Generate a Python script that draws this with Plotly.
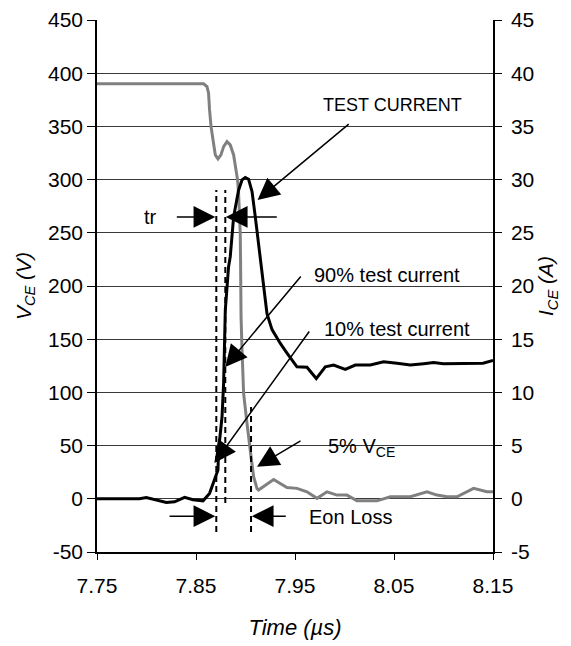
import plotly.graph_objects as go

# V_CE (grey, left axis, volts)
t_vce = [7.75, 7.8577, 7.8611, 7.8627, 7.8637, 7.8652, 7.8672, 7.8695, 7.8722, 7.8752,
         7.8779, 7.8813, 7.8846, 7.8880, 7.8904, 7.8920, 7.8930, 7.8940, 7.8947, 7.8950,
         7.8952, 7.8955, 7.8965, 7.8981, 7.9015, 7.9042, 7.9056, 7.9082, 7.9116, 7.9132,
         7.9284, 7.9419, 7.9520, 7.9621, 7.9722, 7.9823, 7.9924, 8.0025, 8.0126, 8.0328,
         8.0463, 8.0665, 8.0833, 8.0934, 8.1035, 8.1136, 8.1304, 8.1439, 8.15]
vce = [390, 390, 387.4, 381.2, 365.5, 349.8, 337.3, 323.2, 319.4, 323.2,
       331, 335.7, 332.6, 323.2, 309.1, 299.7, 287.2, 271.5, 249.6, 224.6,
       196.3, 171.1, 139.8, 99.1, 70.9, 45.8, 39.5, 20.7, 9.8, 8.2,
       18.2, 10.7, 9.8, 6.6, 0.4, 6.6, 3.5, 3.5, -1.9, -1.9,
       1.9, 1.9, 6.6, 3.5, 1.9, 1.9, 9.8, 6.6, 6.6]

# I_CE (black, right axis, amps)
t_ice = [7.75, 7.793, 7.7998, 7.8082, 7.82, 7.8284, 7.8385, 7.847, 7.8571, 7.8637,
         7.8688, 7.8722, 7.8728, 7.8763, 7.8779, 7.8796, 7.8829, 7.8846, 7.888, 7.893,
         7.8965, 7.8998, 7.9031, 7.9066, 7.9099, 7.9133, 7.915, 7.9167, 7.9183, 7.9217,
         7.9268, 7.9352, 7.9419, 7.952, 7.9621, 7.9715, 7.9806, 7.989, 8.0008, 8.0109,
         8.0261, 8.0395, 8.053, 8.0665, 8.08, 8.09, 8.10, 8.12, 8.14, 8.15]
ice = [0, 0, 0.13, -0.08, -0.34, -0.28, 0.13, -0.08, -0.19, 0.51,
       1.76, 2.7, 4.58, 7.71, 10.85, 17.74, 21.82, 22.76, 26.5, 29.0,
       29.97, 30.2, 30.04, 28.87, 26.5, 23.7, 22.4, 20.9, 19.6, 17.4,
       15.9, 14.6, 13.7, 12.4, 12.36, 11.3, 12.4, 12.57, 12.17, 12.57,
       12.57, 12.88, 12.73, 12.57, 12.7, 12.8, 12.7, 12.7, 12.75, 13.0]

x_ticks = [7.75, 7.85, 7.95, 8.05, 8.15]
v_ticks = [-50, 0, 50, 100, 150, 200, 250, 300, 350, 400, 450]
i_ticks = [-5, 0, 5, 10, 15, 20, 25, 30, 35, 40, 45]

# dashed marker lines: (time, top V, bottom V)
t_10pct, t_90pct, t_5pct_vce = 7.8705, 7.8796, 7.9056
marker_lines = [(t_10pct, 290.3, -31.3), (t_90pct, 290.3, -4.0), (t_5pct_vce, 86.2, -31.3)]

FONT = "Liberation Sans, Arial, sans-serif"

fig = go.Figure()
fig.add_trace(go.Scatter(x=t_vce, y=vce, mode="lines", line=dict(color="#808080", width=3),
                         name="VCE", showlegend=False))
fig.add_trace(go.Scatter(x=t_ice, y=ice, mode="lines", line=dict(color="#000000", width=3),
                         name="ICE", yaxis="y2", showlegend=False))

for t, top, bot in marker_lines:
    fig.add_shape(type="line", xref="x", yref="y", x0=t, x1=t, y0=bot, y1=top,
                  line=dict(color="black", width=2, dash="6px,4px"))

def arrow(tip_t, tip_v, tail_t, tail_v):
    fig.add_annotation(x=tip_t, y=tip_v, ax=tail_t, ay=tail_v, xref="x", yref="y",
                       axref="x", ayref="y", text="", showarrow=True, arrowhead=2,
                       arrowsize=2.9, arrowwidth=1.5, arrowcolor="black")

def label(t, v, text, anchor="left", size=20):
    fig.add_annotation(x=t, y=v, xref="x", yref="y", text=text, showarrow=False,
                       xanchor=anchor, yanchor="middle",
                       font=dict(family=FONT, size=size, color="black"))

label(8.0483, 370.2, "TEST CURRENT", "center", size=18)
arrow(7.9122, 280.9, 8.0058, 353.3)

label(7.804, 264.9, "tr", "center")
arrow(7.8695, 264.9, 7.8291, 264.9)
arrow(7.8801, 264.9, 7.9331, 264.9)

label(7.9675, 210.4, "90% test current")
arrow(7.8796, 123.9, 7.9571, 210.4)

label(7.9773, 159.6, "10% test current")
arrow(7.8685, 33.6, 7.9655, 158.7)

label(7.9816, 48.5, "5% V<sub>CE</sub>")
arrow(7.9116, 30.1, 7.9571, 55.2)

label(7.962, -17.2, "Eon Loss")
arrow(7.8695, -16.3, 7.8218, -16.3)
arrow(7.9064, -16.3, 7.9422, -16.3)

tick_font = dict(family=FONT, size=21, color="black")
title_font = dict(family=FONT, size=21, color="black")

# the page body adds an 8px offset, so margins are shifted to compensate
fig.update_layout(
    width=571, height=646,
    margin=dict(l=89, r=86, t=12, b=102),
    paper_bgcolor="white", plot_bgcolor="white",
    xaxis=dict(range=[7.75, 8.15], tickvals=x_ticks, ticktext=[f"{v:.2f}" for v in x_ticks],
               showgrid=False, zeroline=False, showline=True, linecolor="black", linewidth=1.5,
               ticks="outside", ticklen=6, tickcolor="black", tickfont=tick_font,
               ticklabelstandoff=8, automargin=False,
               title=dict(text="<i>Time (µs)</i>", font=dict(family=FONT, size=22, color="black"),
                          standoff=24)),
    yaxis=dict(range=[-50, 450], tickvals=v_ticks, ticktext=[str(v) for v in v_ticks],
               showgrid=True, gridcolor="#3a3a3a", gridwidth=1, zeroline=False,
               showline=True, linecolor="black", linewidth=1.5,
               ticks="outside", ticklen=8, tickcolor="black", tickfont=tick_font,
               automargin=False,
               title=dict(text="<i>V<sub>CE</sub> (V)</i>", font=title_font, standoff=11)),
    yaxis2=dict(range=[-5, 45], tickvals=i_ticks, ticktext=[str(v) for v in i_ticks],
                overlaying="y", side="right", showgrid=False, zeroline=False,
                showline=True, linecolor="black", linewidth=1.5,
                ticks="outside", ticklen=7, tickcolor="black", tickfont=tick_font,
                ticklabelstandoff=5, automargin=False,
                title=dict(text="<i>I<sub>CE</sub> (A)</i>", font=title_font, standoff=5)),
)

fig.write_html("out.html")
